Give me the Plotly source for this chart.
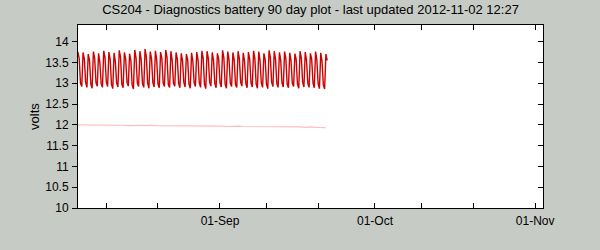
import pandas as pd
import plotly.graph_objects as go

# ---- data ----
title_text = "CS204 - Diagnostics battery 90 day plot - last updated 2012-11-02 12:27"
x_range = ["2012-08-04 12:27", "2012-11-02 12:27"]
tick_dates = ["2012-08-10", "2012-08-20", "2012-09-01", "2012-09-10", "2012-09-20",
              "2012-10-01", "2012-10-10", "2012-10-20", "2012-11-01"]
tick_labels = ["", "", "01-Sep", "", "", "01-Oct", "", "", "01-Nov"]

# battery voltage, 6-hourly samples starting 2012-08-04 12:00
battery_start = "2012-08-04 12:00"
battery_volts = [
    13.75, 13.60,
    13.00, 12.92, 13.74, 13.58,
    13.02, 12.90, 13.70, 13.55,
    12.98, 12.88, 13.76, 13.60,
    13.01, 12.93, 13.72, 13.50,
    12.99, 12.90, 13.78, 13.62,
    13.03, 12.92, 13.75, 13.57,
    12.97, 12.87, 13.73, 13.52,
    13.00, 12.91, 13.79, 13.63,
    12.98, 12.89, 13.74, 13.58,
    13.02, 12.93, 13.71, 13.55,
    12.96, 12.86, 13.80, 13.61,
    13.01, 12.92, 13.77, 13.56,
    12.99, 12.90, 13.82, 13.64,
    13.00, 12.88, 13.76, 13.59,
    13.02, 12.91, 13.78, 13.57,
    12.98, 12.89, 13.75, 13.60,
    13.01, 12.92, 13.80, 13.62,
    12.97, 12.90, 13.77, 13.55,
    13.00, 12.93, 13.74, 13.58,
    12.99, 12.89, 13.72, 13.54,
    13.02, 12.91, 13.70, 13.56,
    12.98, 12.88, 13.73, 13.53,
    13.01, 12.92, 13.75, 13.57,
    13.00, 12.90, 13.78, 13.60,
    12.97, 12.87, 13.77, 13.59,
    13.02, 12.93, 13.74, 13.55,
    12.99, 12.89, 13.72, 13.58,
    13.01, 12.91, 13.79, 13.61,
    12.98, 12.88, 13.76, 13.57,
    13.00, 12.92, 13.74, 13.56,
    12.97, 12.90, 13.77, 13.59,
    13.02, 12.93, 13.73, 13.54,
    12.99, 12.89, 13.75, 13.58,
    13.01, 12.91, 13.78, 13.60,
    12.98, 12.88, 13.76, 13.55,
    13.00, 12.90, 13.72, 13.57,
    12.97, 12.87, 13.79, 13.62,
    13.02, 12.92, 13.77, 13.58,
    12.99, 12.90, 13.74, 13.56,
    13.01, 12.91, 13.76, 13.59,
    12.98, 12.89, 13.73, 13.54,
    13.00, 12.92, 13.71, 13.57,
    12.97, 12.88, 13.77, 13.60,
    13.02, 12.91, 13.75, 13.55,
    12.99, 12.90, 13.72, 13.58,
    13.01, 12.89, 13.76, 13.56,
    12.98, 12.87, 13.73, 13.53,
    12.96, 12.86, 13.70, 13.55,
]

# secondary (pink) voltage, daily samples starting 2012-08-04 12:00
aux_start = "2012-08-04 12:00"
aux_volts = [
    12.00, 12.00, 12.00, 12.00, 12.00, 11.99, 12.00, 11.99, 11.99, 11.99,
    11.98, 11.99, 11.99, 11.98, 11.99, 11.98, 11.98, 11.98, 11.98, 11.98,
    11.98, 11.97, 11.98, 11.98, 11.97, 11.97, 11.97, 11.97, 11.97, 11.96,
    11.97, 11.97, 11.96, 11.96, 11.96, 11.96, 11.96, 11.96, 11.96, 11.96,
    11.95, 11.95, 11.95, 11.95, 11.94, 11.95, 11.94, 11.94, 11.93,
]

battery_t = pd.date_range(battery_start, periods=len(battery_volts), freq="6h")
aux_t = pd.date_range(aux_start, periods=len(aux_volts), freq="1D")

BG = "#c7cbc5"
FONT = "Liberation Sans, Arial, sans-serif"

fig = go.Figure()
fig.add_trace(go.Scatter(x=aux_t, y=aux_volts, mode="lines",
                         line=dict(color="#ffbdbd", width=1.2), showlegend=False, hoverinfo="skip"))
fig.add_trace(go.Scatter(x=battery_t, y=battery_volts, mode="lines",
                         line=dict(color="#cc0000", width=1.4), showlegend=False))
fig.add_trace(go.Scatter(x=[None], y=[None], yaxis="y2", showlegend=False, hoverinfo="skip"))

fig.update_layout(
    width=600, height=250,
    margin=dict(l=78, r=57, t=25, b=42),
    paper_bgcolor=BG, plot_bgcolor="white",
    font=dict(family=FONT, size=12, color="black"),
    title=dict(text=title_text, x=0.5175, xanchor="center", y=1 - 9 / 250, yanchor="middle",
               yref="container", font=dict(size=13, family=FONT, color="black")),
    xaxis=dict(type="date", range=x_range, tickvals=tick_dates, ticktext=tick_labels,
               ticks="inside", ticklen=5, tickcolor="black", tickwidth=1,
               showline=True, linecolor="black", linewidth=1, mirror="ticks",
               showgrid=False, zeroline=False, tickfont=dict(size=12), ticklabelstandoff=2),
    yaxis=dict(range=[10, 14.4], dtick=0.5, tick0=10, ticks="outside", ticklen=5,
               tickcolor="black", tickwidth=1, showline=True, linecolor="black", linewidth=1,
               mirror=True, showgrid=False, zeroline=False, ticklabelstandoff=1,
               title=dict(text="volts", standoff=2, font=dict(size=13)), tickfont=dict(size=12)),
    yaxis2=dict(range=[10, 14.4], dtick=0.5, tick0=10, overlaying="y", side="right",
                ticks="inside", ticklen=5, tickcolor="black", tickwidth=1,
                showticklabels=False, showgrid=False, zeroline=False, showline=False),
)

fig.write_html("out.html")
